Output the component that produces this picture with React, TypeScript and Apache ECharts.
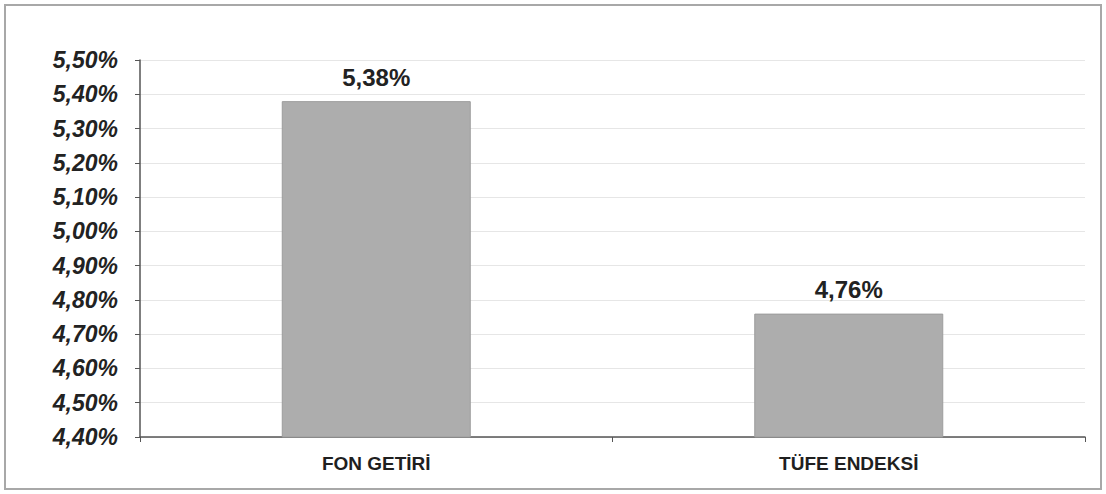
import React, { useEffect, useRef } from "react";
import * as echarts from "echarts";

const categories = ["FON GETİRİ", "TÜFE ENDEKSİ"];
const values = [5.38, 4.76];
const yMin = 4.4;
const yMax = 5.5;
const yStep = 0.1;

const fmt = (v: number) => v.toFixed(2).replace(".", ",") + "%";

export default function App() {
  const ref = useRef<HTMLDivElement>(null);
  useEffect(() => {
    if (!ref.current) return;
    const chart = echarts.init(ref.current, undefined, { renderer: "svg" });
    chart.setOption({
      animation: false,
      backgroundColor: "#ffffff",
      grid: { left: 140, right: 21, top: 60, bottom: 57 },
      graphic: [
        {
          type: "rect",
          shape: { x: 5, y: 5, width: 1096, height: 484 },
          style: { fill: "none", stroke: "#a8a8a8", lineWidth: 2 },
          silent: true,
        },
      ],
      xAxis: {
        type: "category",
        data: categories,
        axisLine: { lineStyle: { color: "#555", width: 1.5 } },
        axisTick: { show: true, length: 5, lineStyle: { color: "#555" } },
        axisLabel: {
          margin: 17,
          fontFamily: "Liberation Sans, Arial, sans-serif",
          fontSize: 19,
          fontWeight: "bold",
          color: "#1f1f1f",
        },
      },
      yAxis: {
        type: "value",
        min: yMin,
        max: yMax,
        interval: yStep,
        axisLine: { show: true, lineStyle: { color: "#555", width: 1.5 } },
        axisTick: { show: true, length: 5, lineStyle: { color: "#555" } },
        splitLine: { lineStyle: { color: "#e6e6e6", width: 1 } },
        axisLabel: {
          margin: 22,
          fontFamily: "Liberation Sans, Arial, sans-serif",
          fontSize: 23,
          fontWeight: "bold",
          fontStyle: "italic",
          color: "#222",
          formatter: (v: number) => fmt(v),
        },
      },
      series: [
        {
          type: "bar",
          data: values,
          barWidth: "40%",
          itemStyle: { color: "#adadad", borderColor: "#9c9c9c", borderWidth: 1 },
          label: {
            show: true,
            position: "top",
            distance: 12,
            fontFamily: "Liberation Sans, Arial, sans-serif",
            fontSize: 24,
            fontWeight: "bold",
            color: "#222",
            formatter: (p: any) => fmt(p.value),
          },
        },
      ],
    });
    return () => chart.dispose();
  }, []);
  return (
    <div
      ref={ref}
      style={{ position: "absolute", left: 0, top: 0, width: 1106, height: 494 }}
    />
  );
}
